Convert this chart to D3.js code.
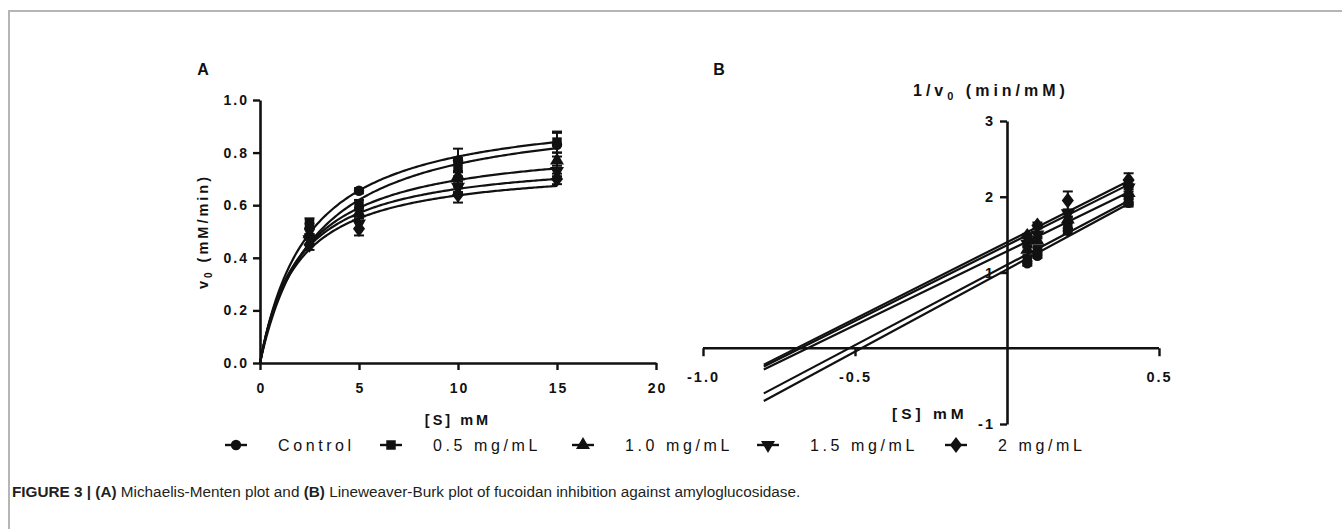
<!DOCTYPE html>
<html><head><meta charset="utf-8">
<script src="https://cdn.jsdelivr.net/npm/d3@7"></script>
<style>
body{margin:0;background:#fff;}
svg text{font-family:Arial,"Liberation Sans",sans-serif;fill:#111;}
.tick text{font-weight:bold;}
</style></head>
<body>
<svg id="c" width="1342" height="529"></svg>
<script>
// ---------- data ----------
const series = ["Control", "0.5 mg/mL", "1.0 mg/mL", "1.5 mg/mL", "2 mg/mL"];
const symbolsOf = ["circle", "square", "triangle", "triangleDown", "diamond"];
// Panel A: substrate concentration (mM) and initial velocity (mM/min)
const substrate = [2.5, 5, 10, 15];
const vControl = [0.51, 0.655, 0.77, 0.83];
const v05 = [0.53, 0.60, 0.745, 0.84];
const v10 = [0.49, 0.57, 0.71, 0.77];
const v15 = [0.47, 0.53, 0.67, 0.73];
const v20 = [0.45, 0.51, 0.64, 0.70];
const eControl = [0.02, 0.01, 0.045, 0.045];
const e05 = [0.02, 0.02, 0.035, 0.04];
const e10 = [0.02, 0.02, 0.02, 0.03];
const e15 = [0.02, 0.02, 0.02, 0.02];
const e20 = [0.02, 0.025, 0.03, 0.02];
// Michaelis-Menten fit parameters (Vmax mM/min, Km mM)
const fitVmax = [0.978, 0.971, 0.848, 0.790, 0.758];
const fitKm = [2.46, 2.83, 2.19, 1.93, 1.89];
// Panel B: 1/[S] and 1/v0
const invS = [0.0667, 0.1, 0.2, 0.4];
const ivControl = [1.12, 1.22, 1.55, 1.92];
const iv05 = [1.18, 1.30, 1.62, 1.95];
const iv10 = [1.30, 1.42, 1.70, 2.05];
const iv15 = [1.38, 1.50, 1.78, 2.12];
const iv20 = [1.48, 1.62, 1.95, 2.22];
const ieControl = [0.03, 0.03, 0.04, 0.05];
const ie05 = [0.03, 0.03, 0.04, 0.06];
const ie10 = [0.03, 0.03, 0.04, 0.05];
const ie15 = [0.03, 0.03, 0.05, 0.05];
const ie20 = [0.03, 0.04, 0.12, 0.09];
// Lineweaver-Burk linear fits: intercept and slope
const lbIntercept = [1.04, 1.10, 1.28, 1.36, 1.40];
const lbSlope = [2.17, 2.12, 1.95, 2.00, 2.02];
const lbRange = [-0.8, 0.4];
// ticks
const ticksAx = [0, 5, 10, 15, 20];
const ticksAy = [0, 0.2, 0.4, 0.6, 0.8, 1.0];
const ticksBx = [-1.0, -0.5, 0.5];
const ticksBy = [-1, 1, 2, 3];

const vA = [vControl, v05, v10, v15, v20];
const eA = [eControl, e05, e10, e15, e20];
const vB = [ivControl, iv05, iv10, iv15, iv20];
const eB = [ieControl, ie05, ie10, ie15, ie20];

// ---------- drawing ----------
const svg = d3.select("#c");
const ink = "#111";

// figure frame
svg.append("path").attr("d","M9,529 V11 H1342").attr("fill","none").attr("stroke","#b5b5b5").attr("stroke-width",2);

function sym(name){
  const m = {circle:d3.symbolCircle, square:d3.symbolSquare, triangle:d3.symbolTriangle,
             triangleDown:d3.symbolTriangle, diamond:d3.symbolDiamond};
  const size = {circle:85, square:90, triangle:85, triangleDown:85, diamond:75}[name];
  return {path:d3.symbol(m[name], size)(), rot: name==="triangleDown"?180:0, sx: name==="diamond"?1.3:1};
}
function drawMarker(g, name, x, y){
  const s = sym(name);
  g.append("path").attr("d", s.path)
   .attr("transform",`translate(${x},${y}) rotate(${s.rot}) scale(${s.sx},1)`)
   .attr("fill",ink);
}
function styleAxis(g){
  g.select(".domain").attr("stroke",ink).attr("stroke-width",2.6);
  g.selectAll(".tick line").attr("stroke",ink).attr("stroke-width",2.4);
  g.selectAll(".tick text").attr("fill",ink).style("font-size","14px").style("letter-spacing","2px");
}

// ===== Panel A =====
const xA = d3.scaleLinear().domain([0,20]).range([260,656]);
const yA = d3.scaleLinear().domain([0,1]).range([363,100]);

const gAx = svg.append("g").attr("transform",`translate(0,${yA(0)})`)
  .call(d3.axisBottom(xA).tickValues(ticksAx).tickFormat(d3.format("d")).tickSize(7).tickSizeOuter(0).tickPadding(13));
styleAxis(gAx);
gAx.selectAll(".tick text").attr("dx","1px");
const gAy = svg.append("g").attr("transform",`translate(${xA(0)},0)`)
  .call(d3.axisLeft(yA).tickValues(ticksAy).tickFormat(d3.format(".1f")).tickSize(7).tickSizeOuter(0).tickPadding(4));
styleAxis(gAy);

// curves
const sGrid = d3.range(0, 15.0001, 0.1);
series.forEach((s,i)=>{
  const line = d3.line().x(d=>xA(d)).y(d=>yA(fitVmax[i]*d/(fitKm[i]+d)));
  svg.append("path").attr("d", line(sGrid)).attr("fill","none").attr("stroke",ink).attr("stroke-width",2.2);
});
// error bars + markers
const gPA = svg.append("g");
series.forEach((s,i)=>{
  substrate.forEach((x,j)=>{
    const v=vA[i][j], e=eA[i][j], px=xA(x);
    gPA.append("line").attr("x1",px).attr("x2",px).attr("y1",yA(v-e)).attr("y2",yA(v+e)).attr("stroke",ink).attr("stroke-width",2);
    [v-e,v+e].forEach(yy=>gPA.append("line").attr("x1",px-5).attr("x2",px+5).attr("y1",yA(yy)).attr("y2",yA(yy)).attr("stroke",ink).attr("stroke-width",2));
    drawMarker(gPA, symbolsOf[i], px, yA(v));
  });
});
svg.append("text").attr("x",203).attr("y",75).text("A").style("font-weight","bold").style("font-size","16px").attr("text-anchor","middle");
svg.append("text").attr("x",xA(10)).attr("y",425).attr("text-anchor","middle")
  .style("font-weight","bold").style("font-size","14.5px").style("letter-spacing","3px").text("[S] mM");
const ylab = svg.append("text").attr("transform",`translate(208,${yA(0.5)}) rotate(-90)`).attr("text-anchor","middle")
  .style("font-weight","bold").style("font-size","14.5px").style("letter-spacing","3px");
ylab.append("tspan").text("v");
ylab.append("tspan").text("0").attr("dy","4").style("font-size","10px");
ylab.append("tspan").text(" (mM/min)").attr("dy","-4");

// ===== Panel B =====
const xB = d3.scaleLinear().domain([-1,0.5]).range([703,1159]);
const yB = d3.scaleLinear().domain([-1,3]).range([424,121]);

const gBx = svg.append("g").attr("transform",`translate(0,${yB(0)})`)
  .call(d3.axisBottom(xB).tickValues(ticksBx).tickFormat(d3.format(".1f")).tickSize(8).tickSizeOuter(0).tickPadding(15));
styleAxis(gBx);
gBx.selectAll(".tick text").text(d=>d3.format(".1f")(d).replace("−","-")).style("font-size","14.5px");
gBx.select(".domain").attr("d",`M${xB(-1)},0H${xB(0.5)}`);
const gBy = svg.append("g").attr("transform",`translate(${xB(0)},0)`)
  .call(d3.axisLeft(yB).tickValues(ticksBy).tickFormat(d=>String(d).replace("−","-")).tickSize(7).tickSizeOuter(0).tickPadding(5));
styleAxis(gBy);
gBy.selectAll(".tick text").style("font-size","14.5px");

series.forEach((s,i)=>{
  const f = x=>lbIntercept[i]+lbSlope[i]*x;
  svg.append("line").attr("x1",xB(lbRange[0])).attr("x2",xB(lbRange[1]))
    .attr("y1",yB(f(lbRange[0]))).attr("y2",yB(f(lbRange[1])))
    .attr("stroke",ink).attr("stroke-width",2.2);
});
const gPB = svg.append("g");
series.forEach((s,i)=>{
  invS.forEach((x,j)=>{
    const v=vB[i][j], e=eB[i][j], px=xB(x);
    gPB.append("line").attr("x1",px).attr("x2",px).attr("y1",yB(v-e)).attr("y2",yB(v+e)).attr("stroke",ink).attr("stroke-width",2);
    [v-e,v+e].forEach(yy=>gPB.append("line").attr("x1",px-5).attr("x2",px+5).attr("y1",yB(yy)).attr("y2",yB(yy)).attr("stroke",ink).attr("stroke-width",2));
    drawMarker(gPB, symbolsOf[i], px, yB(v));
  });
});
svg.append("text").attr("x",719).attr("y",75).text("B").style("font-weight","bold").style("font-size","16px").attr("text-anchor","middle");
const btitle = svg.append("text").attr("x",913).attr("y",96)
  .style("font-weight","bold").style("font-size","16px").style("letter-spacing","4px");
btitle.append("tspan").text("1/v");
btitle.append("tspan").text("0").attr("dy","4").style("font-size","11px");
btitle.append("tspan").text(" (min/mM)").attr("dy","-4");
svg.append("text").attr("x",892).attr("y",419)
  .style("font-weight","bold").style("font-size","15.5px").style("letter-spacing","4px").text("[S] mM");

// ===== Legend =====
const legendTextX = [278, 433, 625, 810, 998];
const gL = svg.append("g");
series.forEach((s,i)=>{
  const cx = legendTextX[i]-42, cy = 445;
  gL.append("line").attr("x1",cx-11).attr("x2",cx+11).attr("y1",cy).attr("y2",cy).attr("stroke",ink).attr("stroke-width",2.4);
  drawMarker(gL, symbolsOf[i], cx, cy);
  gL.append("text").attr("x",legendTextX[i]).attr("y",cy+6).text(s)
    .style("font-size","16px").style("letter-spacing","3.6px");
});

// ===== Caption =====
const cap = svg.append("text").attr("x",12).attr("y",497)
  .style("font-family","'Liberation Sans Narrow','Arial Narrow',Arial,sans-serif").style("font-size","15.3px").style("fill","#231f20");
[["FIGURE 3 | ",true],["(A)",true],[" Michaelis-Menten plot and ",false],["(B)",true],[" Lineweaver-Burk plot of fucoidan inhibition against amyloglucosidase.",false]]
 .forEach(([t,b])=>cap.append("tspan").text(t).style("font-weight",b?"bold":"normal"));
</script>
</body></html>
